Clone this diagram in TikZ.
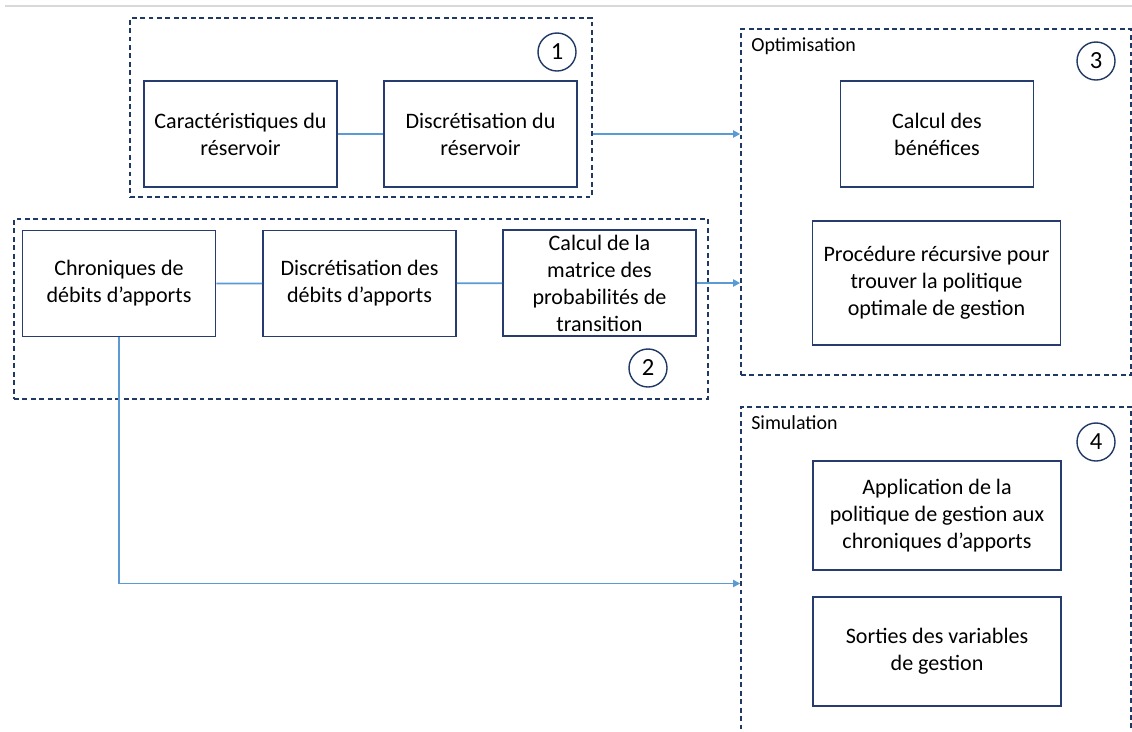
\documentclass[tikz,border=0pt]{standalone}
\usepackage{fontspec}
\setmainfont{Carlito}
\usetikzlibrary{arrows.meta}

\definecolor{marine}{RGB}{31,56,100}
\definecolor{bordbox}{RGB}{38,60,110}
\definecolor{fleche}{RGB}{91,155,213}
\definecolor{trait}{RGB}{217,217,217}

\tikzstyle{etape}=[rectangle,draw=bordbox,line width=1pt,fill=white,align=center,inner sep=2pt,font=\fontsize{15.7}{19.2}\selectfont,minimum width=4.83cm,minimum height=2.65cm]
\tikzstyle{grande}=[etape,minimum width=6.2cm,minimum height=2.72cm]
\tikzstyle{cadre}=[rectangle,draw=marine,line width=1pt,dash pattern=on 3.5pt off 2.5pt,inner sep=0pt]
\tikzstyle{numero}=[circle,draw=marine,line width=1pt,inner sep=0pt,minimum size=0.95cm,font=\fontsize{17.5}{20}\selectfont]
\tikzstyle{titre}=[anchor=west,inner sep=0pt,font=\fontsize{14.2}{16}\selectfont]
\tikzstyle{lien}=[draw=fleche,line width=1.2pt]
\tikzstyle{fl}=[lien,-{Triangle[length=5pt,width=5pt]}]

\begin{document}
\begin{tikzpicture}[x=0.025cm,y=-0.025cm]
		\clip (0,0) rectangle (1132,731);
		\draw[trait,line width=0.8pt] (5,6)--(1132,6);

		% cadres
		\node (g1) at (361,107.5) [cadre,minimum width=11.55cm,minimum height=4.48cm] {};
		\node (g2) at (361,309) [cadre,minimum width=17.35cm,minimum height=4.5cm] {};
		\node (g3) at (936,202) [cadre,minimum width=9.75cm,minimum height=8.65cm] {};
		\node (g4) at (936,583.5) [cadre,minimum width=9.75cm,minimum height=8.83cm] {};

		\node (n1) at (557,52) [numero] {1};
		\node (n2) at (648,368) [numero] {2};
		\node (n3) at (1096,61) [numero] {3};
		\node (n4) at (1096,442) [numero] {4};

		\node (opt) at (751,46) [titre] {Optimisation};
		\node (sim) at (751,423) [titre] {Simulation};

		% etapes
		\node (car) at (240.5,134) [etape] {Caractéristiques du\\réservoir};
		\node (res) at (480.5,134) [etape] {Discrétisation du\\réservoir};
		\node (chr) at (119,283.5) [etape] {Chroniques de\\débits d’apports};
		\node (deb) at (359.5,283.5) [etape] {Discrétisation des\\débits d’apports};
		\node (mat) at (599.5,283) [etape] {Calcul de la\\matrice des\\probabilités de\\transition};
		\node (ben) at (937,134) [etape] {Calcul des\\bénéfices};
		\node (pro) at (936.5,283) [grande,minimum height=3.1cm] {Procédure récursive pour\\trouver la politique\\optimale de gestion};
		\node (app) at (937,515.5) [grande] {Application de la\\politique de gestion aux\\chroniques d’apports};
		\node (sor) at (937,651.5) [grande] {Sorties des variables\\de gestion};

		\draw[lien] (car)--(res);
		\draw[lien] (chr)--(deb)--(mat);
		\draw[fl] (g1.east |- res)--(g3.west |- res);
		\draw[fl] (mat)--(g3.west |- mat);
		\draw[fl] (chr.south) |- (g4.west);
	\end{tikzpicture}
\end{document}
